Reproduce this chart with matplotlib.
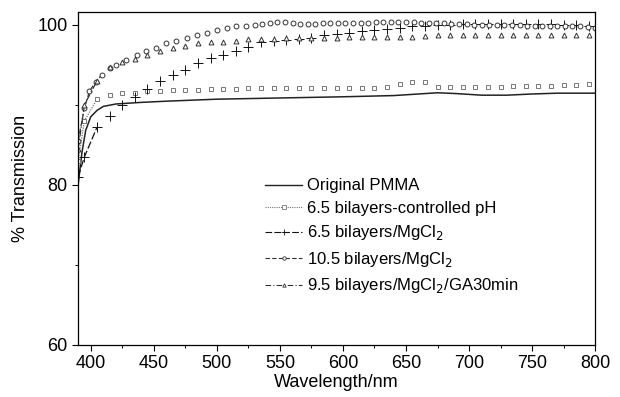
import numpy as np
import matplotlib.pyplot as plt
from matplotlib.lines import Line2D
from matplotlib.ticker import MultipleLocator

plt.rcParams['font.family'] = ['Liberation Sans', 'DejaVu Sans']

# Original PMMA (continuous spectrum)
pmma_x = [390, 393, 396, 400, 405, 410, 420, 440, 460, 500, 550, 600, 640, 660, 675,
          690, 710, 730, 750, 770, 800]
pmma_y = [80.0, 84.0, 86.8, 88.5, 89.3, 89.8, 90.1, 90.3, 90.45, 90.7, 90.85, 91.0,
          91.15, 91.35, 91.5, 91.4, 91.2, 91.2, 91.35, 91.45, 91.45]

# 6.5 bilayers-controlled pH
sq_x = [390] + list(range(395, 800, 10))
sq_y = [83.0, 88.0, 90.7, 91.25, 91.45, 91.5, 91.7, 91.75, 91.8, 91.9, 91.9, 91.95,
        92.0, 92.0, 92.05, 92.05, 92.05, 92.05, 92.1, 92.1, 92.1, 92.1, 92.1, 92.1,
        92.1, 92.2, 92.6, 92.8, 92.9, 92.2, 92.2, 92.2, 92.2, 92.25, 92.25, 92.3,
        92.3, 92.4, 92.4, 92.45, 92.45, 92.6]

# 6.5 bilayers/MgCl2
pl_x = [390] + list(range(395, 800, 10))
pl_y = [81.0, 83.5, 87.2, 88.6, 90.0, 91.0, 92.0, 93.0, 93.75, 94.4, 95.2, 95.8,
        96.25, 96.7, 97.2, 97.8, 98.0, 98.1, 98.2, 98.3, 98.75, 98.9, 98.96, 99.2,
        99.4, 99.5, 99.6, 99.8, 99.9, 100.0, 100.0, 100.05, 100.05, 100.1, 100.1,
        100.1, 100.05, 100.1, 100.1, 100.0, 100.0, 99.9]

# 10.5 bilayers/MgCl2
ci_x = [390, 395, 399, 404, 409, 415, 420, 428, 437, 444, 452, 460, 468, 476, 484,
        492, 500, 508, 515, 523] + list(range(530, 801, 6))
ci_y = [85.5, 89.6, 91.7, 92.9, 93.75, 94.6, 95.0, 95.6, 96.25, 96.7, 97.1, 97.7,
        98.0, 98.3, 98.75, 98.96, 99.3, 99.6, 99.8, 99.9,
        100.0, 100.1, 100.2, 100.3, 100.3, 100.2, 100.1, 100.1, 100.1, 100.2, 100.2,
        100.2, 100.2, 100.2, 100.2, 100.2, 100.3, 100.3, 100.3, 100.3, 100.3, 100.3,
        100.2, 100.2, 100.2, 100.2, 100.1, 100.1, 100.1, 100.0, 100.0, 100.0, 100.0,
        100.0, 100.0, 100.0, 99.9, 99.9, 99.9, 99.9, 99.9, 99.8, 99.8, 99.8, 99.7, 99.6]

# 9.5 bilayers/MgCl2/GA30min
tr_x = [390] + list(range(395, 800, 10))
tr_y = [84.5, 90.0, 93.0, 94.75, 95.3, 95.7, 96.25, 96.7, 97.1, 97.4, 97.7, 97.8,
        97.9, 98.0, 98.2, 98.2, 98.25, 98.3, 98.3, 98.35, 98.4, 98.4, 98.45, 98.5,
        98.5, 98.5, 98.5, 98.5, 98.6, 98.7, 98.7, 98.7, 98.7, 98.7, 98.7, 98.7, 98.7,
        98.7, 98.7, 98.7, 98.7, 98.7]

labels = ['Original PMMA', '6.5 bilayers-controlled pH', '6.5 bilayers/MgCl$_2$',
          '10.5 bilayers/MgCl$_2$', '9.5 bilayers/MgCl$_2$/GA30min']

fig = plt.figure(figsize=(6.2, 3.97), dpi=100)
ax = fig.add_axes([0.126, 0.131, 0.834, 0.839])

ax.plot(pmma_x, pmma_y, color='#222222', lw=1.1)

series = [
    (sq_x, sq_y, 's', (0, (1, 1)), '#777777', 3.3),
    (pl_x, pl_y, '+', (0, (6, 2)), '#111111', 7),
    (ci_x, ci_y, 'o', (0, (4, 2)), '#333333', 3.5),
    (tr_x, tr_y, '^', (0, (5, 2, 1, 2)), '#333333', 3.5),
]
handles = [Line2D([], [], color='#222222', lw=1.0)]
for x, y, m, ls, c, ms in series:
    # connecting lines only visible over the steep onset
    k = sum(1 for v in x if v <= 412)
    ax.plot(x[:k], y[:k], ls=ls, color=c, lw=0.9)
    ax.plot(x, y, ls='none', marker=m, ms=ms, mfc='white', mec=c, mew=0.7)
    handles.append(Line2D([], [], ls=ls, color=c, lw=0.8, marker=m, ms=ms * 0.7,
                          mfc='white', mec=c, mew=0.6))

ax.set_xlim(390, 800)
ax.set_ylim(60, 101.6)
ax.xaxis.set_major_locator(MultipleLocator(50))
ax.xaxis.set_minor_locator(MultipleLocator(25))
ax.yaxis.set_major_locator(MultipleLocator(20))
ax.yaxis.set_minor_locator(MultipleLocator(10))
ax.tick_params(which='major', length=4, width=0.8, labelsize=13)
ax.tick_params(which='minor', length=2.5, width=0.7)
for s in ax.spines.values():
    s.set_linewidth(0.9)

ax.set_xlabel('Wavelength/nm', fontsize=13, labelpad=1)
ax.set_ylabel('% Transmission', fontsize=13, labelpad=6)

ax.legend(handles, labels, loc='upper left', bbox_to_anchor=(0.333, 0.545),
          frameon=False, fontsize=12, handlelength=2.2, handletextpad=0.3,
          labelspacing=0.45)

fig.savefig('out.png', dpi=100)
